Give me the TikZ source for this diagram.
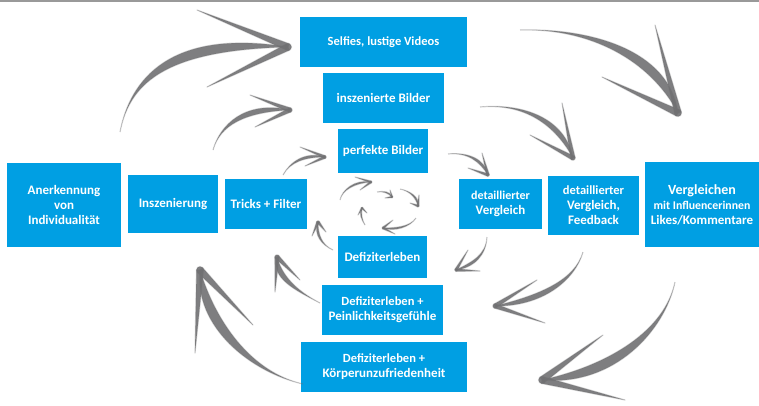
\documentclass[tikz,border=0pt]{standalone}
\usepackage{fontspec}
\setmainfont{Carlito}
\usetikzlibrary{calc}

\definecolor{boxblue}{RGB}{0,159,227}
\definecolor{arrowgray}{RGB}{112,112,114}

\tikzset{
  box/.style={fill=boxblue, text=white, align=center, inner sep=0pt,
    font=\bfseries\fontsize{13}{15}\selectfont},
  brush/.style={fill=arrowgray, fill opacity=.9, draw=arrowgray, draw opacity=.3,
    line width=1.2pt, line join=round},
}

% shaft start, two controls, tip, two barb ends, bulge of the shaft, half width at the tip
\newcommand\brusharrow[8]{%
  \fill[brush] (#1) .. controls (#2) and (#3) .. (#4)
    .. controls ($(#3)!#7pt!90:(#4)$) and (#2) .. (#1);
  \fill[brush] (#5) -- ($(#4)!#8pt!90:(#5)$) -- ($(#4)!#8pt!-90:(#5)$) -- cycle;
  \fill[brush] (#6) -- ($(#4)!#8pt!90:(#6)$) -- ($(#4)!#8pt!-90:(#6)$) -- cycle;
  \fill[brush] (#4) circle (#8pt);
}

\begin{document}
\begin{tikzpicture}[x=1pt, y=-1pt]
  \useasboundingbox (0,0) rectangle (759,405);
  \draw[gray!80, line width=1.5pt] (0,0.75) -- (759,0.75);

  % upper column
  \node[box, minimum width=167, minimum height=50] (selfies) at (383.5,42)
    {\fontsize{12.5}{15}\selectfont Selfies, lustige Videos};
  \node[box, minimum width=121, minimum height=50] (inszbilder) at (383.5,98) {inszenierte Bilder};
  \node[box, minimum width=90, minimum height=44] (perfekt) at (383,151) {perfekte Bilder};

  % lower column
  \node[box, minimum width=89, minimum height=42] (defizit) at (382.5,257) {Defiziterleben};
  \node[box, minimum width=121, minimum height=50] (peinlich) at (382.5,310)
    {{\fontsize{12.5}{15}\selectfont Defiziterleben +}\\Peinlichkeitsgefühle};
  \node[box, minimum width=166, minimum height=50] (koerper) at (384,367)
    {{\fontsize{12.5}{15}\selectfont Defiziterleben +}\\Körperunzufriedenheit};

  % left row
  \node[box, minimum width=114, minimum height=84] (anerkennung) at (64,205) {Anerkennung\\von\\Individualität};
  \node[box, minimum width=90, minimum height=58] (inszenierung) at (173,204) {Inszenierung};
  \node[box, minimum width=82, minimum height=50] (tricks) at (266,204) {Tricks + Filter};

  % right row
  \node[box, minimum width=83, minimum height=50] (detail) at (500.5,204)
    {{\fontsize{12}{15}\selectfont detaillierter}\\Vergleich};
  \node[box, minimum width=91, minimum height=59] (feedback) at (593.5,205.5)
    {{\fontsize{12.5}{15}\selectfont detaillierter}\\Vergleich,\\Feedback};
  \node[box, minimum width=114, minimum height=85] (vergleichen) at (702,204.5)
    {{\fontsize{14}{15}\selectfont Vergleichen}\\{\fontsize{11.8}{15}\selectfont mit Influencerinnen}\\Likes/Kommentare};

  % left arrows, up to the top
  \coordinate (a1) at (120,132); \coordinate (b1) at (288,47);
  \coordinate (a2) at (213,150); \coordinate (b2) at (290,110);
  \coordinate (a3) at (283,175); \coordinate (b3) at (325,157);
  \brusharrow{a1}{130,80}{170,50}{b1}{197,10}{207,87}{22}{3.5}
  \brusharrow{a2}{220,125}{245,112}{b2}{250,95}{255,127}{12}{2.2}
  \brusharrow{a3}{290,162}{305,157}{b3}{300,147}{305,166}{6}{1.4}

  % right arrows, down to the comparison
  \coordinate (a4) at (520,30);  \coordinate (b4) at (678,113);
  \coordinate (a5) at (480,107); \coordinate (b5) at (573,158);
  \coordinate (a6) at (448,154); \coordinate (b6) at (488,175);
  \brusharrow{a4}{590,28}{650,60}{b4}{655,25}{602,77}{22}{3.5}
  \brusharrow{a5}{525,103}{555,125}{b5}{562,103}{530,135}{12}{2.2}
  \brusharrow{a6}{468,152}{480,162}{b6}{482,153}{468,168}{6}{1.4}

  % lower right arrows, back to the deficit
  \coordinate (a7) at (487,237); \coordinate (b7) at (456,270);
  \coordinate (a8) at (583,252); \coordinate (b8) at (495,306);
  \coordinate (a9) at (675,282); \coordinate (b9) at (542,380);
  \brusharrow{a7}{486,255}{472,262}{b7}{480,271}{468,250}{6}{1.4}
  \brusharrow{a8}{575,280}{540,295}{b8}{545,323}{537,280}{12}{2.2}
  \brusharrow{a9}{665,330}{610,365}{b9}{625,400}{603,335}{22}{3.5}

  % lower left arrows, up to the staging
  \coordinate (a10) at (333,250); \coordinate (b10) at (318,222);
  \coordinate (a11) at (320,303); \coordinate (b11) at (277,257);
  \coordinate (a12) at (303,384); \coordinate (b12) at (200,270);
  \brusharrow{a10}{322,245}{318,235}{b10}{312,236}{326,232}{5}{1.4}
  \brusharrow{a11}{295,290}{282,275}{b11}{275,292}{300,280}{12}{2.2}
  \brusharrow{a12}{250,372}{215,320}{b12}{195,353}{253,325}{22}{3.5}

  % small cycle in the middle
  \coordinate (c1) at (340,200); \coordinate (d1) at (371,182);
  \coordinate (c2) at (377,192); \coordinate (d2) at (392,197);
  \coordinate (c3) at (400,189); \coordinate (d3) at (418,206);
  \coordinate (c4) at (416,218); \coordinate (d4) at (383,228);
  \coordinate (c5) at (365,225); \coordinate (d5) at (362,208);
  \brusharrow{c1}{342,190}{355,183}{d1}{355,177}{360,190}{4}{1}
  \brusharrow{c2}{383,191}{388,193}{d2}{390,190}{385,198}{3}{0.8}
  \brusharrow{c3}{410,191}{416,198}{d3}{419,195}{410,203}{4}{1}
  \brusharrow{c4}{410,227}{395,228}{d4}{393,220}{395,234}{4}{1}
  \brusharrow{c5}{362,220}{361,214}{d5}{358,215}{367,213}{3}{0.8}
\end{tikzpicture}
\end{document}
